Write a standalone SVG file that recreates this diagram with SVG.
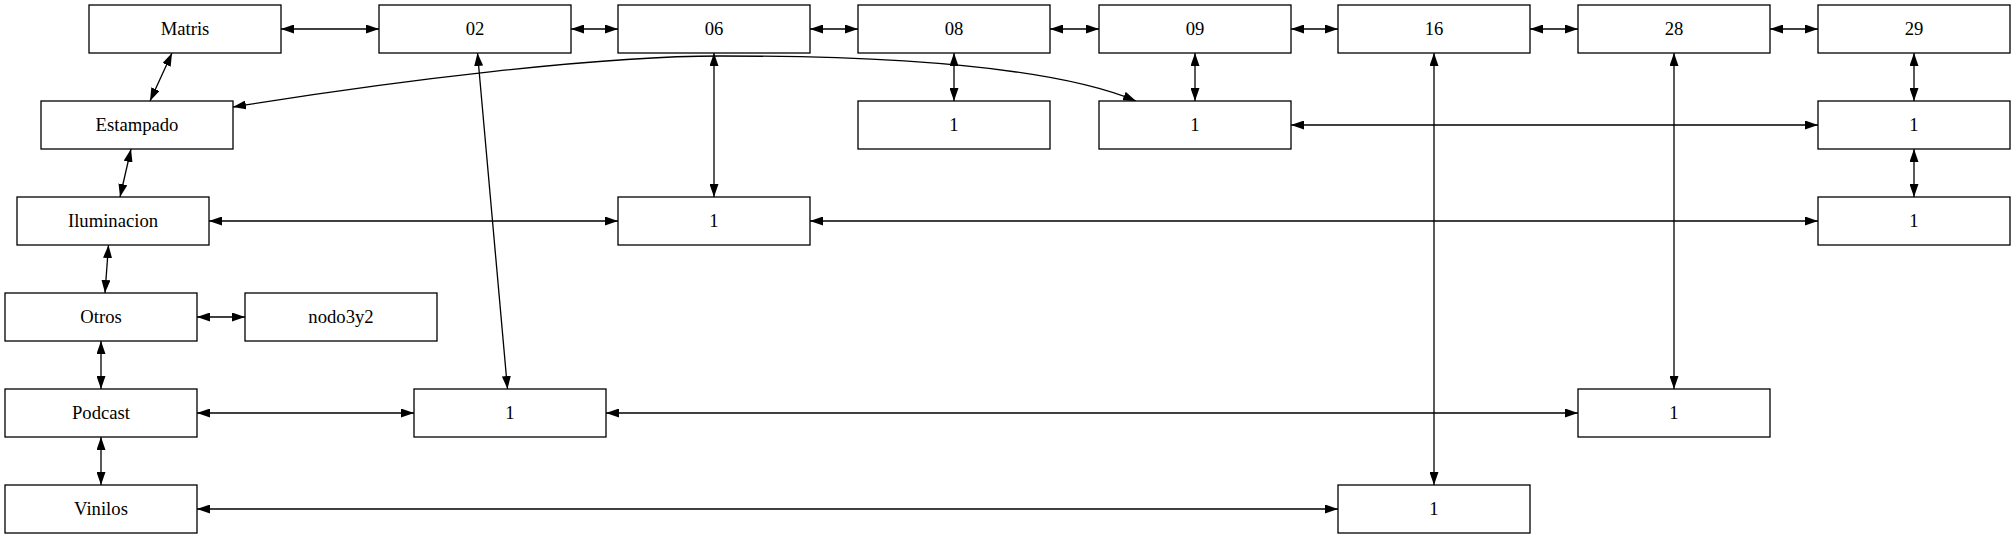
<svg xmlns="http://www.w3.org/2000/svg" width="2016" height="539" viewBox="0 0 2016 539">
<style>
.n rect{fill:#fff;stroke:#000;stroke-width:1.3}
#edges path{fill:none;stroke:#000;stroke-width:1.3;marker-start:url(#ah);marker-end:url(#ah)}
</style>
<defs>
<marker id="ah" markerUnits="userSpaceOnUse" viewBox="0 0 13 9" refX="13" refY="4.5" markerWidth="13" markerHeight="9" orient="auto-start-reverse">
<path d="M0,0 L13,4.5 L0,9 z" fill="#000"/>
</marker>
</defs>
<rect width="2016" height="539" fill="#fff"/>
<g id="edges">
<path d="M281,29 H379"/>
<path d="M571,29 H618"/>
<path d="M810,29 H858"/>
<path d="M1050,29 H1099"/>
<path d="M1291,29 H1338"/>
<path d="M1530,29 H1578"/>
<path d="M1770,29 H1818"/>
<path d="M172,53 L150,101"/>
<path d="M131,149 L120,197"/>
<path d="M108.5,245 L105,293"/>
<path d="M101,341 V389"/>
<path d="M101,437 V485"/>
<path d="M197,317 H245"/>
<path d="M209,221 H618"/>
<path d="M810,221 H1818"/>
<path d="M197,413 H414"/>
<path d="M606,413 H1578"/>
<path d="M197,509 H1338"/>
<path d="M1291,125 H1818"/>
<path d="M477.5,53 L507.5,389"/>
<path d="M714,53 V197"/>
<path d="M954,53 V101"/>
<path d="M1195,53 V101"/>
<path d="M1434,53 V485"/>
<path d="M1674,53 V389"/>
<path d="M1914,53 V101"/>
<path d="M1914,149 V197"/>
<path d="M233,107 C400,80 600,56 720,56 C880,56 1050,65 1136,101"/>
</g>
<g font-family="Liberation Serif" font-size="18.67" text-anchor="middle" fill="#000">
<g id="Matris" class="n"><rect x="89" y="5" width="192" height="48"/><text x="185" y="35">Matris</text></g>
<g id="n02" class="n"><rect x="379" y="5" width="192" height="48"/><text x="475" y="35">02</text></g>
<g id="n06" class="n"><rect x="618" y="5" width="192" height="48"/><text x="714" y="35">06</text></g>
<g id="n08" class="n"><rect x="858" y="5" width="192" height="48"/><text x="954" y="35">08</text></g>
<g id="n09" class="n"><rect x="1099" y="5" width="192" height="48"/><text x="1195" y="35">09</text></g>
<g id="n16" class="n"><rect x="1338" y="5" width="192" height="48"/><text x="1434" y="35">16</text></g>
<g id="n28" class="n"><rect x="1578" y="5" width="192" height="48"/><text x="1674" y="35">28</text></g>
<g id="n29" class="n"><rect x="1818" y="5" width="192" height="48"/><text x="1914" y="35">29</text></g>
<g id="Estampado" class="n"><rect x="41" y="101" width="192" height="48"/><text x="137" y="131">Estampado</text></g>
<g id="n08_1" class="n"><rect x="858" y="101" width="192" height="48"/><text x="954" y="131">1</text></g>
<g id="n09_1" class="n"><rect x="1099" y="101" width="192" height="48"/><text x="1195" y="131">1</text></g>
<g id="n29_1" class="n"><rect x="1818" y="101" width="192" height="48"/><text x="1914" y="131">1</text></g>
<g id="Iluminacion" class="n"><rect x="17" y="197" width="192" height="48"/><text x="113" y="227">Iluminacion</text></g>
<g id="n06_1" class="n"><rect x="618" y="197" width="192" height="48"/><text x="714" y="227">1</text></g>
<g id="n29_2" class="n"><rect x="1818" y="197" width="192" height="48"/><text x="1914" y="227">1</text></g>
<g id="Otros" class="n"><rect x="5" y="293" width="192" height="48"/><text x="101" y="323">Otros</text></g>
<g id="nodo3y2" class="n"><rect x="245" y="293" width="192" height="48"/><text x="341" y="323">nodo3y2</text></g>
<g id="Podcast" class="n"><rect x="5" y="389" width="192" height="48"/><text x="101" y="419">Podcast</text></g>
<g id="n02_1" class="n"><rect x="414" y="389" width="192" height="48"/><text x="510" y="419">1</text></g>
<g id="n28_1" class="n"><rect x="1578" y="389" width="192" height="48"/><text x="1674" y="419">1</text></g>
<g id="Vinilos" class="n"><rect x="5" y="485" width="192" height="48"/><text x="101" y="515">Vinilos</text></g>
<g id="n16_1" class="n"><rect x="1338" y="485" width="192" height="48"/><text x="1434" y="515">1</text></g>
</g>
</svg>
